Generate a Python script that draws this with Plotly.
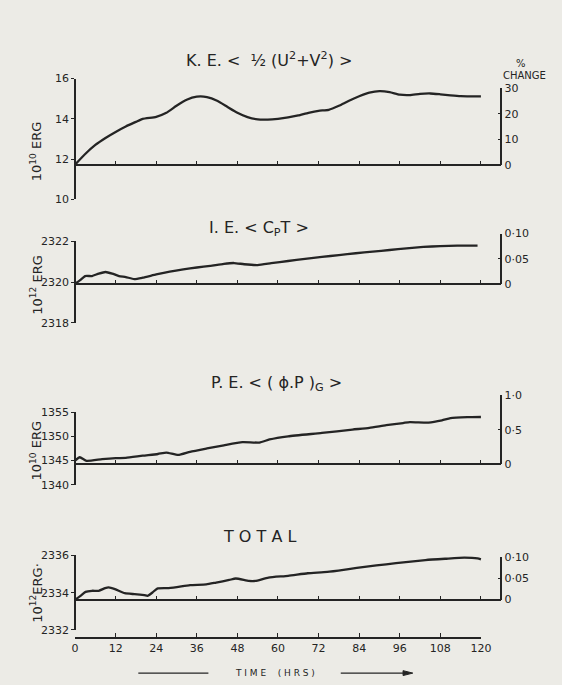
import plotly.graph_objects as go

W, H = 562, 685

# ---------------- data ----------------
ke_t = [0, 3, 6, 9, 12, 15, 18, 20, 24, 27, 30, 33, 36, 39, 42, 45, 48, 51, 54, 57, 60,
        63, 66, 69, 72, 75, 78, 81, 84, 87, 90, 93, 96, 99, 102, 105, 108, 111, 114, 117, 120]
ke_v = [11.72, 12.25, 12.7, 13.05, 13.35, 13.62, 13.85, 14.0, 14.1, 14.3, 14.65, 14.95, 15.1,
        15.08, 14.9, 14.6, 14.3, 14.08, 13.97, 13.96, 14.0, 14.07, 14.17, 14.3, 14.4, 14.45,
        14.65, 14.9, 15.12, 15.3, 15.38, 15.33, 15.2, 15.18, 15.24, 15.26, 15.22, 15.17,
        15.13, 15.12, 15.12]

ie_t = [0, 1.5, 3, 5, 7, 9, 11, 13, 15, 17.5, 20, 24, 28, 32, 36, 40, 44, 47, 50, 54, 58,
        63, 68, 73, 78, 83, 88, 93, 98, 103, 108, 113, 119]
ie_v = [2319.91, 2320.1, 2320.3, 2320.3, 2320.42, 2320.5, 2320.42, 2320.3, 2320.25, 2320.15,
        2320.22, 2320.38, 2320.52, 2320.63, 2320.72, 2320.8, 2320.9, 2320.94, 2320.88,
        2320.84, 2320.93, 2321.04, 2321.14, 2321.24, 2321.33, 2321.42, 2321.5, 2321.58,
        2321.66, 2321.73, 2321.77, 2321.79, 2321.79]

pe_t = [0, 1.4, 3.4, 8, 12, 15, 20, 24.5, 27, 30.5, 34, 39, 44, 49.5, 54.5, 57.5, 63, 73,
        82, 87, 92, 97, 99, 104.5, 108.5, 111, 116, 120]
pe_v = [1345.0, 1345.68, 1344.95, 1345.3, 1345.5, 1345.55, 1346.0, 1346.35, 1346.65, 1346.15,
        1346.8, 1347.5, 1348.15, 1348.8, 1348.72, 1349.35, 1350.0, 1350.7, 1351.4, 1351.75,
        1352.3, 1352.75, 1352.95, 1352.85, 1353.3, 1353.75, 1353.95, 1354.0]

tot_t = [0, 1.6, 3.1, 5, 7, 8.9, 9.9, 11.8, 14.7, 17.6, 20.5, 21.4, 22.9, 24.3, 27.2, 30.1,
         34, 38.8, 41.7, 45.6, 47.5, 51.4, 53.3, 57.2, 63, 68.8, 74.6, 80.4, 86.2, 92, 97.8,
         103.6, 109.4, 115.1, 119, 120]
tot_v = [2333.62, 2333.83, 2334.04, 2334.1, 2334.1, 2334.24, 2334.28, 2334.19, 2333.97,
         2333.92, 2333.87, 2333.83, 2334.01, 2334.22, 2334.24, 2334.3, 2334.4, 2334.44,
         2334.54, 2334.68, 2334.76, 2334.63, 2334.63, 2334.81, 2334.9, 2335.04, 2335.11,
         2335.25, 2335.4, 2335.52, 2335.64, 2335.75, 2335.82, 2335.88, 2335.84, 2335.79]

time_ticks = [0, 12, 24, 36, 48, 60, 72, 84, 96, 108, 120]

ke_ticks, ke_ticktext = [10, 12, 14, 16], ["10", "12", "14", "16"]
ie_ticks, ie_ticktext = [2318, 2320, 2322], ["2318", "2320", "2322"]
pe_ticks, pe_ticktext = [1340, 1345, 1350, 1355], ["1340", "1345", "1350", "1355"]
tot_ticks, tot_ticktext = [2332, 2334, 2336], ["2332", "2334", "2336"]

ke_pct, ke_pcttext = [0, 10, 20, 30], ["0", "10", "20", "30"]
ie_pct, ie_pcttext = [0, 0.05, 0.10], ["0", "0·05", "0·10"]
pe_pct, pe_pcttext = [0, 0.5, 1.0], ["0", "0·5", "1·0"]
tot_pct, tot_pcttext = [0, 0.05, 0.10], ["0", "0·05", "0·10"]

titles = ["K. E. <  ½ (U<sup>2</sup>+V<sup>2</sup>) >",
          "I. E. < C<sub>P</sub>T >",
          "P. E. < ( ϕ.P )<sub>G</sub> >",
          "T O T A L"]
ylabels = ["10<sup>10</sup> ERG", "10<sup>12</sup> ERG", "10<sup>10</sup> ERG", "10<sup>12</sup>ERG·"]

# ---------------- layout geometry (pixels) ----------------
XL, XR, X120 = 73, 511, 490
T_END = 120 * (XR - XL) / (X120 - XL)

panels = [
    dict(t=ke_t, v=ke_v, lt=74, lb=197, lr=[10, 16], base=162, rt=84, rr=[0, 30],
         tv=ke_ticks, tt=ke_ticktext, pv=ke_pct, pt=ke_pcttext, title_xy=(272, 55), ylab_y=148),
    dict(t=ie_t, v=ie_v, lt=240, lb=323, lr=[2318, 2322], base=283.4, rt=232, rr=[0, 0.10],
         tv=ie_ticks, tt=ie_ticktext, pv=ie_pct, pt=ie_pcttext, title_xy=(262, 227), ylab_y=284),
    dict(t=pe_t, v=pe_v, lt=414, lb=488, lr=[1340, 1355], base=466.7, rt=397, rr=[0, 1.0],
         tv=pe_ticks, tt=pe_ticktext, pv=pe_pct, pt=pe_pcttext, title_xy=(280, 385), ylab_y=453),
    dict(t=tot_t, v=tot_v, lt=560, lb=636, lr=[2332, 2336], base=605, rt=562, rr=[0, 0.10],
         tv=tot_ticks, tt=tot_ticktext, pv=tot_pct, pt=tot_pcttext, title_xy=(262, 541), ylab_y=598),
]
TIME_AXIS_Y = 644

INK = "#242424"
FONT = "DejaVu Sans"


def px(x):
    return x / W


def py(y):
    return 1 - y / H


fig = go.Figure()
layout = dict(
    width=W, height=H, margin=dict(l=0, r=0, t=0, b=0),
    paper_bgcolor="#ecebe6", plot_bgcolor="rgba(0,0,0,0)",
    showlegend=False, font=dict(family=FONT, color=INK, size=11),
)
annotations = []

for i, p in enumerate(panels):
    n = i + 1
    xa = "x" if n == 1 else f"x{n}"
    ya = "y" if n == 1 else f"y{n}"
    yr = f"y{n + 4}"
    fig.add_trace(go.Scatter(x=p["t"], y=p["v"], xaxis=xa, yaxis=ya, mode="lines",
                             line=dict(color=INK, width=2.3, shape="spline", smoothing=0.5),
                             hoverinfo="skip"))
    v0 = p["v"][0]
    pct = [(v - v0) / v0 * 100 for v in p["v"]]
    fig.add_trace(go.Scatter(x=p["t"], y=pct, xaxis=xa, yaxis=yr, mode="lines",
                             line=dict(width=0), opacity=0, hoverinfo="skip"))

    layout["xaxis" if n == 1 else f"xaxis{n}"] = dict(
        domain=[px(XL), px(XR)], range=[0, T_END], anchor="free", position=py(p["base"]),
        showline=True, linecolor=INK, linewidth=1.7, ticks="inside", ticklen=3,
        tickwidth=1.3, tickcolor=INK, tickvals=time_ticks[1:], showticklabels=False,
        showgrid=False, zeroline=False, fixedrange=True)
    layout["yaxis" if n == 1 else f"yaxis{n}"] = dict(
        domain=[py(p["lb"]), py(p["lt"])], range=p["lr"], anchor="free", position=px(XL),
        showline=True, linecolor=INK, linewidth=1.7, ticks="outside", ticklen=3,
        tickwidth=1.3, tickcolor=INK, tickvals=p["tv"], ticktext=p["tt"],
        tickfont=dict(size=11, color=INK), showgrid=False, zeroline=False, fixedrange=True)
    layout[f"yaxis{n + 4}"] = dict(
        domain=[py(p["base"]), py(p["rt"])], range=p["rr"], anchor="free", position=px(XR),
        side="right", showline=True, linecolor=INK, linewidth=1.7, ticks="inside", ticklen=3,
        tickwidth=1.3, tickcolor=INK, tickvals=p["pv"], ticktext=p["pt"],
        tickfont=dict(size=11, color=INK), showgrid=False, zeroline=False, fixedrange=True)

    tx, ty = p["title_xy"]
    annotations.append(dict(text=titles[i], x=px(tx), y=py(ty), xref="paper", yref="paper",
                            showarrow=False, xanchor="center", yanchor="middle",
                            font=dict(size=16, color=INK, family=FONT)))
    annotations.append(dict(text=ylabels[i], x=px(33), y=py(p["ylab_y"]), xref="paper",
                            yref="paper", showarrow=False, textangle=-90,
                            xanchor="center", yanchor="middle",
                            font=dict(size=13, color=INK, family=FONT)))

# bottom labelled time axis
fig.add_trace(go.Scatter(x=tot_t, y=tot_v, xaxis="x5", yaxis="y4", mode="lines",
                         line=dict(width=0), opacity=0, hoverinfo="skip"))
layout["xaxis5"] = dict(
    domain=[px(XL), px(X120)], range=[0, 120], anchor="free", position=py(TIME_AXIS_Y),
    showline=True, linecolor=INK, linewidth=1.7, ticks="inside", ticklen=4, tickwidth=1.3,
    tickcolor=INK, tickvals=time_ticks, ticktext=[str(t) for t in time_ticks],
    tickfont=dict(size=11, color=INK), showgrid=False, zeroline=False, fixedrange=True)

annotations.append(dict(text="%", x=px(531), y=py(59), xref="paper", yref="paper",
                        xanchor="center", yanchor="middle",
                        showarrow=False, font=dict(size=10, color=INK)))
annotations.append(dict(text="CHANGE", x=px(535), y=py(71), xref="paper", yref="paper",
                        xanchor="center", yanchor="middle",
                        showarrow=False, font=dict(size=10, color=INK)))
annotations.append(dict(text="T I M E    ( H R S )", x=px(278), y=py(680), xref="paper",
                        yref="paper", xanchor="center", yanchor="middle",
                        showarrow=False, font=dict(size=9, color=INK)))

shapes = [
    dict(type="line", xref="paper", yref="paper", x0=px(138), x1=px(210), y0=py(680),
         y1=py(680), line=dict(color=INK, width=1.2)),
    dict(type="line", xref="paper", yref="paper", x0=px(346), x1=px(412), y0=py(680),
         y1=py(680), line=dict(color=INK, width=1.2)),
    dict(type="path", xref="paper", yref="paper",
         path=f"M {px(410)} {py(677.5)} L {px(420)} {py(680)} L {px(410)} {py(682.5)} Z",
         fillcolor=INK, line=dict(color=INK, width=1)),
]

layout["annotations"] = annotations
layout["shapes"] = shapes
fig.update_layout(**layout)
fig.write_html("out.html", config={"displayModeBar": False},
               post_script="document.body.style.margin='0';document.body.style.overflow='hidden';")
